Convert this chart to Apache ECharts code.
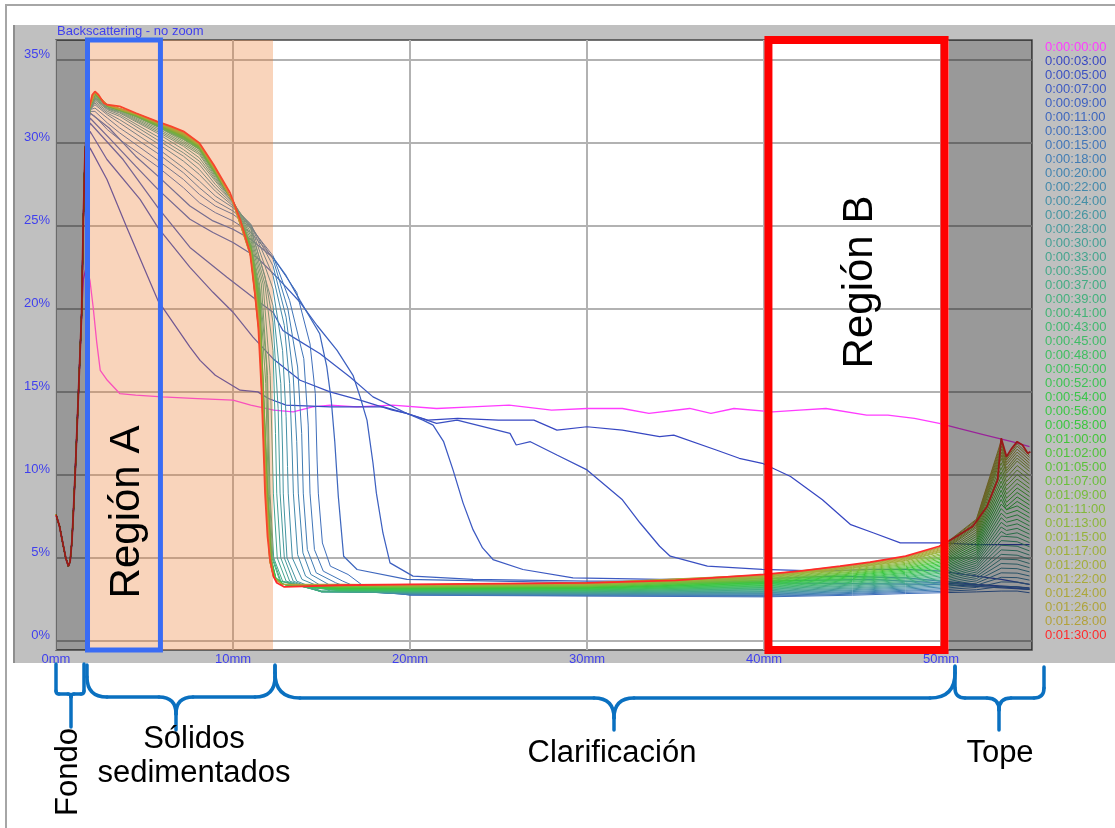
<!DOCTYPE html>
<html>
<head>
<meta charset="utf-8">
<script src="https://cdn.jsdelivr.net/npm/echarts@6.0.0/dist/echarts.min.js"></script>
<style>
html,body{margin:0;padding:0;background:#fff;}
#chart{width:1115px;height:828px;}
</style>
</head>
<body>
<div id="chart"></div>
<script>
// Backscattering profiles (BS, %) along the tube height (mm), one curve per scan time.

const times = ['0:00:00:00','0:00:03:00','0:00:05:00','0:00:07:00','0:00:09:00','0:00:11:00','0:00:13:00','0:00:15:00','0:00:18:00','0:00:20:00','0:00:22:00','0:00:24:00','0:00:26:00','0:00:28:00','0:00:30:00','0:00:33:00','0:00:35:00','0:00:37:00','0:00:39:00','0:00:41:00','0:00:43:00','0:00:45:00','0:00:48:00','0:00:50:00','0:00:52:00','0:00:54:00','0:00:56:00','0:00:58:00','0:01:00:00','0:01:02:00','0:01:05:00','0:01:07:00','0:01:09:00','0:01:11:00','0:01:13:00','0:01:15:00','0:01:17:00','0:01:20:00','0:01:22:00','0:01:24:00','0:01:26:00','0:01:28:00','0:01:30:00'];

const xTicks = [0, 10, 20, 30, 40, 50];
const yTicks = [0, 5, 10, 15, 20, 25, 30, 35];

// zones along the tube (mm)
const zoneFondo = [0, 1.7];
const zoneSolids = [1.7, 12.26];
const zoneTope = [50.45, 55.14];
const regionA = [1.78, 5.9];
const regionB = [40.25, 50.2];

// bottom of the tube: every scan reads the same here
const fondo = [[0,7.6],[0.2,6.9],[0.4,5.8],[0.55,5.0],[0.7,4.5],[0.8,4.8],[0.9,6.0],[0.98,7.7],[1.1,10.5],[1.26,14.7],[1.45,19.8]];

const bs0000 = [[1.55,21.8],[1.72,22.6],[1.92,21.7],[2.1,20.1],[2.3,18.0],[2.5,16.3],[2.9,15.7],[3.6,14.9],[4.5,14.8],[6,14.7],[8,14.6],[10,14.5],[11,14.2],[12.3,13.9],[13.4,13.8],[14.5,14.1],[15.5,14.2],[17,14.1],[19,14.2],[21.5,14.0],[23.5,14.1],[25.6,14.2],[28,13.9],[30,14.0],[32,14.0],[33.5,13.7],[35.8,14.0],[37,13.7],[38.3,14.0],[40.5,13.8],[42,13.9],[43.5,14.0],[45.8,13.6],[47,13.6],[48.5,13.4],[49.9,13.1],[51,12.8],[52.5,12.4],[54,12.0],[55.0,11.7]];
const bs0003 = [[1.54,25.2],[1.64,28.3],[1.92,29.7],[2.88,27.8],[4.0,24.9],[5.76,20.5],[7.57,17.7],[8.14,16.9],[9.0,16.0],[10.4,15.1],[11.4,15.0],[12.0,14.6],[13.0,14.2],[15.5,14.1],[18.5,14.1],[19.8,13.7],[21.0,13.3],[22.7,13.4],[25.0,13.3],[27.0,13.3],[28.3,12.7],[30.0,12.9],[32.0,12.7],[34.1,12.3],[34.9,12.4],[37.3,11.5],[38.6,11.0],[39.9,10.7],[41.5,9.9],[43.3,8.5],[44.9,7.0],[46.2,6.5],[47.7,5.9],[49.9,5.9],[52,5.8],[55.0,5.8]];
const bs0005 = [[1.54,25.2],[1.64,29.0],[1.92,30.7],[2.88,29.0],[4.75,26.6],[5.76,24.9],[7.57,22.5],[8.87,21.0],[10.0,19.8],[11.13,18.3],[12.26,17.0],[13.79,15.7],[15.48,15.0],[17.18,14.5],[19.0,13.9],[19.83,13.7],[21.5,13.1],[22.66,13.3],[25.65,12.5],[26.0,11.8],[26.8,12.0],[28.3,11.2],[30.0,10.3],[32.0,8.5],[33.0,7.1],[34.1,5.7],[34.7,5.1],[36.8,4.5],[39.9,4.3],[43.3,4.2],[46,4.3],[48,4.3],[50,4.2],[52,3.9],[53.4,3.7],[55.0,3.4]];
const bs0007 = [[1.54,25.2],[1.64,29.3],[1.92,31.2],[3.79,29.0],[5.76,26.1],[7.57,23.7],[9.66,21.9],[11.36,20.5],[12.26,19.8],[12.82,18.7],[13.39,18.3],[14.92,17.3],[16.61,15.9],[17.91,14.7],[19.83,13.7],[20.73,13.3],[21.3,13.0],[21.9,12.0],[22.43,10.3],[23.0,8.3],[23.56,6.7],[24.1,5.6],[24.69,4.9],[26.38,4.3],[29.21,3.8],[34.12,3.7],[40,3.75],[44,3.9],[48,3.8],[50,3.6],[52,3.4],[55.0,3.2]];
const bs0009 = [[1.54,25.2],[1.64,29.4],[1.92,31.5],[3.0,30.3],[4.5,28.6],[5.76,27.2],[7.57,25.4],[8.87,24.6],[10.0,24.0],[11.36,23.1],[12.49,21.9],[13.79,20.4],[14.75,19.0],[15.88,17.5],[16.78,16.0],[17.18,14.7],[17.57,13.3],[17.91,10.7],[18.1,8.9],[18.47,6.5],[18.87,4.7],[20.17,3.9],[23.56,3.7],[30,3.6],[40,3.6],[46,3.7],[50,3.5],[53,3.3],[55.0,3.1]];
const bs0011 = [[1.54,25.2],[1.64,29.5],[1.92,31.8],[3.0,30.9],[4.5,29.2],[5.76,28.0],[7.57,26.2],[8.87,25.3],[10.0,24.8],[11.0,24.2],[12.26,23.1],[13.0,22.0],[13.79,20.5],[14.9,18.5],[15.3,16.5],[15.55,14.5],[15.75,12.0],[15.95,8.7],[16.25,5.1],[17.01,4.3],[19.83,3.7],[30,3.5],[40,3.5],[50,3.4],[55.0,3.1]];
const bs0013 = [[1.54,25.2],[1.64,29.5],[1.92,31.8],[2.2,31.6],[2.9,30.8],[3.6,30.2],[5.7,28.6],[7.2,27.3],[8.1,26.4],[9.0,25.8],[10.0,25.3],[11.0,24.6],[12.26,23.1],[13.6,21.0],[14.35,17.9],[14.65,14.9],[14.75,10.9],[14.82,8.9],[15.05,5.9],[15.5,4.5],[16.5,4.0],[17.5,3.2],[20,2.75],[30,2.7],[40,2.65],[45,2.75],[48,2.85],[50,2.9],[52,2.95],[53.4,3.0],[54.3,3.0],[55.0,2.9]];
const bs0015 = [[1.54,25.2],[1.64,29.5],[1.92,31.9],[2.2,31.9],[2.9,31.2],[3.6,30.6],[5.7,29.0],[7.2,27.8],[8.1,26.9],[9.0,26.2],[10.0,25.7],[11.0,24.9],[12.26,23.2],[13.2,20.5],[14.0,17.0],[14.25,13.0],[14.35,8.9],[14.6,5.5],[15.1,4.2],[16.2,3.6],[17.5,3.0],[20,2.77],[30,2.72],[40,2.69],[45,2.81],[48,2.92],[50,2.98],[52,3.08],[53.4,3.28],[54.3,3.27],[55.0,3.15]];
const bs0018 = [[1.54,25.2],[1.64,29.5],[1.92,32.0],[2.2,32.1],[2.9,31.5],[3.6,30.9],[5.7,29.4],[7.2,28.2],[8.1,27.3],[9.0,26.5],[10.0,25.9],[11.0,25.0],[12.26,23.0],[13.1,20.0],[13.65,16.5],[13.88,12.5],[13.97,8.9],[14.2,5.5],[14.7,4.1],[15.8,3.5],[17.0,3.0],[20,2.79],[30,2.75],[40,2.73],[45,2.86],[48,2.99],[50,3.07],[52,3.22],[53.4,3.55],[54.3,3.54],[55.0,3.4]];
const bs0020 = [[1.54,25.2],[1.64,29.5],[1.92,32.0],[2.2,32.3],[2.9,31.7],[3.6,31.2],[5.7,29.7],[7.2,28.5],[8.1,27.7],[9.0,26.8],[10.0,26.1],[11.0,25.1],[12.26,22.6],[13.0,19.5],[13.4,16.0],[13.6,12.0],[13.69,8.9],[13.95,5.3],[14.4,4.0],[15.4,3.4],[16.5,3.0],[20,2.81],[30,2.77],[40,2.77],[45,2.92],[48,3.05],[50,3.15],[52,3.35],[53.4,3.83],[54.3,3.81],[55.0,3.66]];
const bs0022 = [[1.54,25.2],[1.64,29.5],[1.92,32.0],[2.2,32.4],[2.9,31.8],[3.6,31.4],[5.7,30.0],[7.2,28.9],[8.1,28.1],[9.0,27.1],[10.0,26.2],[11.0,25.1],[12.26,22.0],[12.9,19.0],[13.2,15.5],[13.34,11.5],[13.41,8.9],[13.65,5.2],[14.1,3.9],[15.0,3.3],[16.2,3.0],[20,2.83],[30,2.8],[40,2.81],[45,2.97],[48,3.12],[50,3.24],[52,3.48],[53.4,4.1],[54.3,4.08],[55.0,3.91]];
const bs0024 = [[1.54,25.2],[1.64,29.5],[1.92,32.0],[2.2,32.5],[2.9,31.9],[3.6,31.6],[5.7,30.2],[7.2,29.2],[8.1,28.4],[9.0,27.3],[10.0,26.3],[11.0,25.0],[12.26,21.2],[12.8,17.5],[13.0,13.5],[13.08,10.5],[13.12,8.9],[13.35,5.0],[13.9,3.7],[15.5,3.0],[20,2.85],[30,2.82],[40,2.85],[45,3.03],[48,3.19],[50,3.32],[52,3.62],[53.4,4.38],[54.3,4.35],[55.0,4.16]];
const bs0026 = [[1.54,25.2],[1.64,29.5],[1.92,32.0],[2.2,32.6],[2.9,32.0],[3.6,31.7],[5.7,30.4],[7.2,29.4],[8.1,28.7],[9.0,27.5],[10.0,26.4],[11.0,24.9],[12.26,20.2],[12.7,15.5],[12.8,11.5],[12.84,8.9],[13.05,5.0],[13.6,3.6],[15.0,3.0],[20,2.87],[30,2.84],[40,2.89],[45,3.08],[48,3.26],[50,3.4],[52,3.75],[53.4,4.66],[54.3,4.62],[55.0,4.41]];
const bs0028 = [[1.54,25.2],[1.64,29.5],[1.92,32.0],[2.2,32.65],[2.9,32.05],[3.6,31.8],[5.7,30.6],[7.2,29.6],[8.1,28.9],[9.0,27.7],[10.0,26.4],[11.0,24.8],[11.8,22.0],[12.26,19.2],[12.55,14.0],[12.66,8.9],[12.9,5.0],[13.4,3.6],[15.0,2.95],[20,2.89],[30,2.87],[40,2.93],[45,3.14],[48,3.32],[50,3.49],[52,3.88],[53.4,4.93],[54.3,4.89],[55.0,4.66]];
const bs0030 = [[1.54,25.2],[1.64,29.5],[1.92,32.0],[2.2,32.7],[2.9,32.1],[3.6,31.85],[5.7,30.7],[7.2,29.8],[8.1,29.1],[9.0,27.8],[10.0,26.5],[11.0,24.6],[11.8,21.5],[12.26,17.5],[12.4,12.5],[12.47,8.9],[12.7,5.0],[13.2,3.6],[15.0,2.95],[20,2.91],[30,2.89],[40,2.97],[45,3.19],[48,3.39],[50,3.57],[52,4.02],[53.4,5.21],[54.3,5.16],[55.0,4.92]];
const bs0033 = [[1.54,25.2],[1.64,29.5],[1.92,32.0],[2.2,32.75],[2.9,32.1],[3.6,31.9],[5.7,30.8],[7.2,29.9],[8.1,29.3],[9.0,27.9],[10.0,26.5],[11.0,24.4],[11.7,21.5],[12.1,16.0],[12.22,11.5],[12.28,8.9],[12.5,5.0],[13.0,3.6],[15.0,2.95],[20,2.93],[30,2.92],[40,3.01],[45,3.25],[48,3.46],[50,3.66],[52,4.15],[53.4,5.48],[54.3,5.43],[55.0,5.17]];
const bs0035 = [[1.54,25.2],[1.64,29.5],[1.92,32.0],[2.2,32.8],[2.9,32.15],[3.6,31.95],[5.7,30.9],[7.2,30.0],[8.1,29.4],[9.0,28.0],[10.0,26.5],[11.0,24.2],[11.6,21.5],[11.95,16.0],[12.09,8.9],[12.3,5.0],[12.8,3.6],[15.0,2.97],[20,2.95],[30,2.94],[40,3.06],[45,3.31],[48,3.53],[50,3.74],[52,4.29],[53.4,5.76],[54.3,5.7],[55.0,5.42]];
const bs0037 = [[1.54,25.2],[1.64,29.5],[1.92,32.0],[2.2,32.85],[2.9,32.2],[3.6,32.0],[5.7,31.0],[7.2,30.1],[8.1,29.5],[9.0,28.1],[10.0,26.5],[11.0,24.0],[11.5,21.5],[11.9,16.5],[12.05,8.8],[12.25,5.0],[12.7,3.6],[15.0,2.98],[20,2.96],[30,2.96],[40,3.1],[45,3.36],[48,3.59],[50,3.82],[52,4.42],[53.4,6.04],[54.3,5.97],[55.0,5.67]];
const bs0039 = [[1.54,25.2],[1.64,29.5],[1.92,32.0],[2.2,32.9],[2.9,32.2],[3.6,32.05],[5.7,31.0],[7.2,30.2],[8.1,29.6],[9.0,28.1],[10.0,26.5],[11.0,23.8],[11.5,21.2],[11.85,15.5],[12.0,8.7],[12.2,5.0],[12.65,3.6],[15.0,3.0],[20,2.98],[30,2.99],[40,3.14],[45,3.42],[48,3.66],[50,3.91],[52,4.55],[53.4,6.31],[54.3,6.24],[55.0,5.92]];
const bs0041 = [[1.54,25.2],[1.64,29.5],[1.85,32.0],[2.2,32.91],[2.9,32.2],[4.5,31.61],[5.7,31.01],[7.2,30.22],[8.1,29.62],[9.0,28.12],[10.0,26.5],[11.0,23.87],[11.5,20.88],[11.97,8.7],[12.19,4.8],[12.42,3.8],[12.87,3.4],[16,3.02],[20,3.0],[30,3.01],[40,3.18],[45,3.47],[48,3.73],[50,3.99],[52,4.69],[53.4,6.59],[53.7,6.4],[54.3,6.51],[55.0,6.18]];
const bs0043 = [[1.54,25.2],[1.64,29.5],[1.85,32.0],[2.2,32.92],[2.9,32.21],[4.5,31.62],[5.7,31.02],[7.2,30.24],[8.1,29.63],[9.0,28.13],[10.0,26.49],[11.0,23.84],[11.5,20.76],[11.97,8.7],[12.19,4.8],[12.42,3.8],[12.87,3.4],[16,3.04],[20,3.02],[30,3.04],[40,3.22],[45,3.53],[48,3.8],[50,4.08],[52,4.82],[53.4,6.86],[53.7,6.65],[54.3,6.78],[55.0,6.43]];
const bs0045 = [[1.54,25.2],[1.64,29.5],[1.85,32.0],[2.2,32.92],[2.9,32.21],[4.5,31.62],[5.7,31.04],[7.2,30.26],[8.1,29.65],[9.0,28.15],[10.0,26.49],[11.0,23.8],[11.5,20.64],[11.96,8.7],[12.18,4.8],[12.41,3.8],[12.86,3.4],[16,3.06],[20,3.04],[30,3.06],[40,3.26],[45,3.58],[48,3.86],[50,4.16],[52,4.95],[53.4,7.14],[53.7,6.9],[54.3,7.05],[55.0,6.68]];
const bs0048 = [[1.54,25.2],[1.64,29.5],[1.85,32.0],[2.2,32.94],[2.9,32.22],[4.5,31.64],[5.7,31.05],[7.2,30.29],[8.1,29.67],[9.0,28.17],[10.0,26.48],[11.0,23.76],[11.5,20.46],[11.95,8.7],[12.17,4.8],[12.4,3.8],[12.85,3.4],[16,3.08],[20,3.06],[30,3.08],[40,3.3],[45,3.64],[48,3.93],[50,4.24],[52,5.09],[53.4,7.42],[53.7,7.15],[54.3,7.32],[55.0,6.93]];
const bs0050 = [[1.54,25.2],[1.64,29.5],[1.85,32.0],[2.2,32.94],[2.9,32.22],[4.5,31.64],[5.7,31.07],[7.2,30.31],[8.1,29.69],[9.0,28.19],[10.0,26.48],[11.0,23.72],[11.5,20.34],[11.95,8.7],[12.17,4.8],[12.4,3.8],[12.85,3.4],[16,3.1],[20,3.08],[30,3.11],[40,3.34],[45,3.69],[48,4.0],[50,4.33],[52,5.22],[53.4,7.69],[53.7,7.4],[54.3,7.59],[55.0,7.18]];
const bs0052 = [[1.54,25.2],[1.64,29.5],[1.85,32.0],[2.2,32.95],[2.9,32.23],[4.5,31.65],[5.7,31.08],[7.2,30.33],[8.1,29.7],[9.0,28.2],[10.0,26.48],[11.0,23.7],[11.5,20.25],[11.94,8.7],[12.16,4.8],[12.39,3.8],[12.84,3.4],[16,3.12],[20,3.1],[30,3.13],[40,3.38],[45,3.75],[48,4.07],[50,4.41],[52,5.35],[53.4,7.97],[53.7,7.65],[54.3,7.86],[55.0,7.44]];
const bs0054 = [[1.54,25.2],[1.64,29.5],[1.85,32.0],[2.2,32.96],[2.9,32.23],[4.5,31.66],[5.7,31.09],[7.2,30.35],[8.1,29.72],[9.0,28.22],[10.0,26.47],[11.0,23.67],[11.5,20.13],[11.94,8.7],[12.16,4.8],[12.39,3.8],[12.84,3.4],[16,3.14],[20,3.12],[30,3.16],[40,3.42],[45,3.8],[48,4.13],[50,4.5],[52,5.49],[53.4,8.24],[53.7,7.9],[54.3,8.13],[55.0,7.69]];
const bs0056 = [[1.54,25.2],[1.64,29.5],[1.85,32.0],[2.2,32.97],[2.9,32.23],[4.5,31.67],[5.7,31.1],[7.2,30.37],[8.1,29.73],[9.0,28.23],[10.0,26.47],[11.0,23.64],[11.5,20.01],[11.93,8.7],[12.15,4.8],[12.38,3.8],[12.83,3.4],[16,3.16],[20,3.14],[30,3.18],[40,3.46],[45,3.86],[48,4.2],[50,4.58],[52,5.62],[53.4,8.52],[53.7,7.9],[54.3,8.4],[55.0,7.94]];
const bs0058 = [[1.54,25.2],[1.64,29.5],[1.85,32.0],[2.2,32.97],[2.9,32.24],[4.5,31.67],[5.7,31.11],[7.2,30.39],[8.1,29.75],[9.0,28.25],[10.0,26.46],[11.0,23.6],[11.5,19.89],[11.93,8.7],[12.15,4.8],[12.38,3.8],[12.83,3.4],[16,3.18],[20,3.16],[30,3.2],[40,3.5],[45,3.92],[48,4.27],[50,4.66],[52,5.75],[53.4,8.8],[53.7,8.1],[54.3,8.67],[55.0,8.19]];
const bs0100 = [[1.54,25.2],[1.64,29.5],[1.85,32.0],[2.2,32.98],[2.9,32.24],[4.5,31.68],[5.7,31.12],[7.2,30.41],[8.1,29.76],[9.0,28.26],[10.0,26.46],[11.0,23.57],[11.5,19.77],[11.92,8.7],[12.14,4.8],[12.37,3.8],[12.82,3.4],[16,3.2],[20,3.18],[30,3.23],[40,3.54],[45,3.97],[48,4.34],[50,4.75],[52,5.89],[53.4,9.07],[53.7,8.35],[54.3,8.94],[55.0,8.44]];
const bs0102 = [[1.54,25.2],[1.64,29.5],[1.85,32.0],[2.2,32.99],[2.9,32.25],[4.5,31.69],[5.7,31.14],[7.2,30.43],[8.1,29.78],[9.0,28.28],[10.0,26.46],[11.0,23.54],[11.5,19.65],[11.92,8.7],[12.14,4.8],[12.37,3.8],[12.82,3.4],[16,3.22],[20,3.2],[30,3.25],[40,3.58],[45,4.03],[48,4.4],[50,4.83],[52,6.02],[53.4,9.35],[53.7,8.6],[54.3,9.21],[55.0,8.7]];
const bs0105 = [[1.54,25.2],[1.64,29.5],[1.85,32.0],[2.2,33.0],[2.9,32.25],[4.5,31.7],[5.7,31.15],[7.2,30.46],[8.1,29.8],[9.0,28.3],[10.0,26.45],[11.0,23.49],[11.5,19.47],[11.91,8.7],[12.13,4.8],[12.36,3.8],[12.81,3.4],[16,3.24],[20,3.22],[30,3.28],[40,3.62],[45,4.08],[48,4.47],[50,4.92],[52,6.15],[53.4,9.62],[53.7,8.85],[54.3,9.48],[55.0,8.95]];
const bs0107 = [[1.54,25.2],[1.64,29.5],[1.85,32.0],[2.2,33.01],[2.9,32.26],[4.5,31.71],[5.7,31.17],[7.2,30.48],[8.1,29.82],[9.0,28.32],[10.0,26.45],[11.0,23.46],[11.5,19.35],[11.9,8.7],[12.12,4.8],[12.35,3.8],[12.8,3.4],[16,3.26],[20,3.24],[30,3.3],[40,3.66],[45,4.14],[48,4.54],[50,5.0],[52,6.29],[53.4,9.9],[53.7,9.1],[54.3,9.75],[55.0,9.2]];
const bs0109 = [[1.54,25.2],[1.64,29.5],[1.85,32.0],[2.2,33.02],[2.9,32.26],[4.5,31.72],[5.7,31.18],[7.2,30.5],[8.1,29.84],[9.0,28.34],[10.0,26.44],[11.0,23.43],[11.5,19.23],[11.9,8.7],[12.12,4.8],[12.35,3.8],[12.8,3.4],[16,3.28],[20,3.26],[30,3.32],[40,3.7],[45,4.19],[48,4.61],[50,5.08],[52,6.42],[53.4,10.18],[53.7,9.35],[54.3,10.02],[55.0,9.45]];
const bs0111 = [[1.54,25.2],[1.64,29.5],[1.85,32.0],[2.2,33.03],[2.9,32.26],[4.5,31.73],[5.7,31.19],[7.2,30.52],[8.1,29.85],[9.0,28.35],[10.0,26.44],[11.0,23.4],[11.5,19.11],[11.89,8.7],[12.11,4.8],[12.34,3.8],[12.79,3.4],[16,3.3],[20,3.28],[30,3.35],[40,3.74],[45,4.25],[48,4.67],[50,5.17],[52,6.55],[53.4,10.45],[53.7,9.6],[54.3,10.29],[55.0,9.7]];
const bs0113 = [[1.54,25.2],[1.64,29.5],[1.85,32.0],[2.2,33.03],[2.9,32.27],[4.5,31.73],[5.7,31.2],[7.2,30.54],[8.1,29.87],[9.0,28.37],[10.0,26.43],[11.0,23.36],[11.5,18.99],[11.89,8.7],[12.11,4.8],[12.34,3.8],[12.79,3.4],[16,3.32],[20,3.3],[30,3.37],[40,3.78],[45,4.3],[48,4.74],[50,5.25],[52,6.69],[53.4,10.73],[53.7,9.85],[54.3,10.56],[55.0,9.96]];
const bs0115 = [[1.54,25.2],[1.64,29.5],[1.85,32.0],[2.2,33.04],[2.9,32.27],[4.5,31.74],[5.7,31.21],[7.2,30.56],[8.1,29.88],[9.0,28.38],[10.0,26.43],[11.0,23.33],[11.5,18.87],[11.88,8.7],[12.1,4.8],[12.33,3.8],[12.78,3.4],[16,3.34],[20,3.32],[30,3.4],[40,3.82],[45,4.36],[48,4.81],[50,5.34],[52,6.82],[53.4,11.0],[53.7,10.1],[54.3,10.83],[55.0,10.21]];
const bs0117 = [[1.54,25.2],[1.64,29.5],[1.85,32.0],[2.2,33.05],[2.9,32.28],[4.5,31.75],[5.7,31.23],[7.2,30.58],[8.1,29.9],[9.0,28.4],[10.0,26.43],[11.0,23.3],[11.5,18.75],[11.88,8.7],[12.1,4.8],[12.33,3.8],[12.78,3.4],[16,3.35],[20,3.33],[30,3.41],[40,3.85],[45,4.4],[48,4.85],[50,5.39],[52,6.91],[53.4,11.19],[53.7,10.25],[54.3,11.01],[55.0,10.38]];
const bs0120 = [[1.54,25.2],[1.64,29.5],[1.85,32.0],[2.2,33.06],[2.9,32.28],[4.5,31.76],[5.7,31.24],[7.2,30.6],[8.1,29.92],[9.0,28.42],[10.0,26.42],[11.0,23.26],[11.5,18.6],[11.87,8.7],[12.09,4.8],[12.32,3.8],[12.77,3.4],[16,3.36],[20,3.34],[30,3.43],[40,3.88],[45,4.43],[48,4.9],[50,5.45],[52,7.0],[53.4,11.37],[53.7,10.4],[54.3,11.19],[55.0,10.54]];
const bs0122 = [[1.54,25.2],[1.64,29.5],[1.85,32.0],[2.2,33.07],[2.9,32.28],[4.5,31.77],[5.7,31.25],[7.2,30.62],[8.1,29.94],[9.0,28.44],[10.0,26.42],[11.0,23.23],[11.5,18.48],[11.86,8.7],[12.08,4.8],[12.31,3.8],[12.76,3.4],[16,3.37],[20,3.35],[30,3.44],[40,3.91],[45,4.47],[48,4.94],[50,5.5],[52,7.09],[53.4,11.56],[53.7,10.6],[54.3,11.37],[55.0,10.71]];
const bs0124 = [[1.54,25.2],[1.64,29.5],[1.85,32.0],[2.2,33.08],[2.9,32.29],[4.5,31.78],[5.7,31.26],[7.2,30.64],[8.1,29.95],[9.0,28.45],[10.0,26.41],[11.0,23.2],[11.5,18.36],[11.86,8.7],[12.08,4.8],[12.31,3.8],[12.76,3.4],[16,3.39],[20,3.37],[30,3.46],[40,3.93],[45,4.51],[48,4.99],[50,5.56],[52,7.18],[53.4,11.74],[53.7,10.75],[54.3,11.55],[55.0,10.88]];
const bs0126 = [[1.54,25.2],[1.64,29.5],[1.85,32.0],[2.2,33.08],[2.9,32.29],[4.5,31.78],[5.7,31.28],[7.2,30.66],[8.1,29.97],[9.0,28.47],[10.0,26.41],[11.0,23.16],[11.5,18.24],[11.85,8.7],[12.07,4.8],[12.3,3.8],[12.75,3.4],[16,3.4],[20,3.38],[30,3.48],[40,3.96],[45,4.54],[48,5.03],[50,5.62],[52,7.27],[53.4,11.92],[53.7,10.9],[54.3,11.73],[55.0,11.05]];
const bs0128 = [[1.54,25.2],[1.64,29.5],[1.85,32.0],[2.2,33.09],[2.9,32.3],[4.5,31.79],[5.7,31.29],[7.2,30.68],[8.1,29.98],[9.0,28.48],[10.0,26.4],[11.0,23.13],[11.5,18.12],[11.85,8.7],[12.07,4.8],[12.3,3.8],[12.75,3.4],[16,3.41],[20,3.39],[30,3.49],[40,3.98],[45,4.57],[48,5.07],[50,5.66],[52,7.33],[53.4,12.06],[53.7,11.0],[54.3,11.87],[55.0,11.17]];
const bs0130 = [[1.54,25.2],[1.64,29.5],[1.85,32.0],[2.05,32.9],[2.2,33.1],[2.4,32.9],[2.7,32.4],[2.9,32.3],[3.6,32.2],[4.5,31.8],[5.7,31.3],[6.5,31.0],[7.2,30.7],[8.1,30.0],[8.9,28.7],[9.5,27.6],[9.83,27.0],[10.4,25.4],[10.96,23.4],[11.24,20.9],[11.43,18.9],[11.62,14.9],[11.81,8.9],[11.95,6.3],[12.09,4.9],[12.28,3.9],[12.47,3.5],[12.9,3.25],[16,3.35],[20,3.4],[25,3.45],[30,3.5],[35,3.65],[40,4.0],[42,4.2],[44.3,4.5],[46,4.75],[48,5.1],[49.9,5.7],[50.9,6.3],[51.8,6.9],[52.6,8.1],[53.2,9.7],[53.4,12.2],[53.7,11.1],[54.0,11.6],[54.3,12.0],[54.6,11.8],[54.9,11.3],[55.05,11.4]];

const profiles = [bs0000,bs0003,bs0005,bs0007,bs0009,bs0011,bs0013,bs0015,bs0018,bs0020,bs0022,bs0024,bs0026,bs0028,bs0030,bs0033,bs0035,bs0037,bs0039,bs0041,bs0043,bs0045,bs0048,bs0050,bs0052,bs0054,bs0056,bs0058,bs0100,bs0102,bs0105,bs0107,bs0109,bs0111,bs0113,bs0115,bs0117,bs0120,bs0122,bs0124,bs0126,bs0128,bs0130];

// colour per scan: magenta, then blue -> teal -> green -> olive, last scan red
const lineColors = [
  '#ff3cff',
  '#3747c2','#3a50c2','#3c59c2','#3d60c0','#3e67be',
  '#3f6ebb','#4075b8','#417cb4','#4283b0','#4389ab',
  '#448fa6','#4595a1','#469a9b','#469f95','#45a48f',
  '#44a889','#43ac83','#42b07c','#41b475','#40b86e',
  '#3fbb67','#3ebe60','#3dc159','#3cc352','#3bc54b',
  '#3ac644','#3ac63e','#42c53a','#4fc33a','#5cc13a',
  '#69bf3a','#76bc3a','#82b93a','#8cb63a','#95b33a',
  '#9db03a','#a3ad3a','#a8aa3a','#aca73a','#afa43a',
  '#b2a13a','#ff2a2a'
];

const FONT = '"Liberation Sans", Arial, sans-serif';
const AXIS_BLUE = '#3f3fee';
const Y_MIN = -0.55, Y_MAX = 36.2, X_MAX = 55.14;

const series = profiles.map(function (p, i) {
  const last = i === profiles.length - 1;
  return {
    name: times[i],
    type: 'line',
    data: fondo.concat(p),
    symbol: 'none',
    silent: true,
    z: 2,
    lineStyle: { color: lineColors[i], width: i === 0 ? 1.3 : (last ? 1.8 : (i < 6 ? 1.25 : 1.0)) },
    itemStyle: { color: lineColors[i] }
  };
});

// shaded zones drawn over the curves
series.push({
  type: 'line', data: [], silent: true, z: 8,
  markArea: {
    silent: true, z: 8, label: { show: false },
    data: [
      [{ xAxis: zoneFondo[0], yAxis: Y_MIN, itemStyle: { color: 'rgba(0,0,0,0.4)' } }, { xAxis: zoneFondo[1], yAxis: Y_MAX }],
      [{ xAxis: zoneSolids[0], yAxis: Y_MIN, itemStyle: { color: 'rgba(237,125,49,0.33)' } }, { xAxis: zoneSolids[1], yAxis: Y_MAX }],
      [{ xAxis: zoneTope[0], yAxis: Y_MIN, itemStyle: { color: 'rgba(0,0,0,0.4)' } }, { xAxis: zoneTope[1], yAxis: Y_MAX }]
    ]
  }
});

// outlined regions A and B
series.push({
  type: 'line', data: [], silent: true, z: 9, clip: false,
  markArea: {
    silent: true, z: 9, label: { show: false },
    data: [
      [{ xAxis: regionA[0], yAxis: Y_MIN, itemStyle: { color: 'rgba(0,0,0,0)', borderColor: '#3a6cf4', borderWidth: 5 } }, { xAxis: regionA[1], yAxis: Y_MAX }],
      [{ xAxis: regionB[0], yAxis: Y_MIN - 0.1, itemStyle: { color: 'rgba(0,0,0,0)', borderColor: '#ff0000', borderWidth: 8 } }, { xAxis: regionB[1], yAxis: Y_MAX + 0.05 }]
    ]
  }
});

// curly brace under the plot, built from straight and quadratic pieces
function brace(x1, x2, xm, yTop, yMid, yTip, r, rt) {
  const st = { stroke: '#0a70c0', lineWidth: 3.5, fill: null, lineCap: 'round' };
  function seg(a, b, c, d) { return { type: 'line', shape: { x1: a, y1: b, x2: c, y2: d }, style: st }; }
  function arc(a, b, c, d, cx, cy) { return { type: 'bezierCurve', shape: { x1: a, y1: b, x2: c, y2: d, cpx1: cx, cpy1: cy }, style: st }; }
  return {
    type: 'group', silent: true, z: 100,
    children: [
      seg(x1, yTop, x1, yMid - r),
      arc(x1, yMid - r, x1 + r, yMid, x1, yMid),
      seg(x1 + r, yMid, xm - rt, yMid),
      arc(xm - rt, yMid, xm, yMid + rt, xm, yMid),
      seg(xm, yMid + rt, xm, yTip),
      arc(xm, yMid + rt, xm + rt, yMid, xm, yMid),
      seg(xm + rt, yMid, x2 - r, yMid),
      arc(x2 - r, yMid, x2, yMid - r, x2, yMid),
      seg(x2, yMid - r, x2, yTop)
    ]
  };
}

function label(text, x, y, size, vertical) {
  return {
    type: 'text', silent: true, z: 100, x: x, y: y,
    rotation: vertical ? Math.PI / 2 : 0,
    style: {
      text: text, fill: '#000', font: size + 'px ' + FONT,
      textAlign: 'center', textVerticalAlign: 'middle'
    }
  };
}

const option = {
  backgroundColor: '#ffffff',
  animation: false,
  title: {
    text: 'Backscattering - no zoom', left: 57, top: 25, padding: 0,
    textStyle: { fontSize: 13, fontWeight: 'normal', color: AXIS_BLUE, fontFamily: FONT }
  },
  legend: {
    orient: 'vertical', left: 1040, top: 40, padding: 0,
    itemWidth: 0, itemHeight: 14, itemGap: 0, icon: 'rect',
    itemStyle: { opacity: 0 }, lineStyle: { opacity: 0 },
    selectedMode: false,
    textStyle: { fontSize: 13, fontFamily: FONT, lineHeight: 14 },
    data: times.map(function (t, i) { return { name: t, textStyle: { color: lineColors[i] } }; })
  },
  grid: {
    left: 56, top: 40, right: 83, bottom: 178, show: true,
    backgroundColor: '#ffffff', borderColor: '#444', borderWidth: 1.5
  },
  xAxis: {
    type: 'value', min: 0, max: X_MAX,
    axisLine: { show: false },
    axisTick: { show: false, customValues: xTicks },
    axisLabel: { customValues: xTicks, formatter: '{value}mm', color: AXIS_BLUE, fontSize: 13, fontFamily: FONT, margin: 3, lineHeight: 13 },
    splitLine: { show: true, lineStyle: { color: '#b2b2b2', width: 2 } }
  },
  yAxis: {
    type: 'value', min: Y_MIN, max: Y_MAX,
    axisLine: { show: false },
    axisTick: { show: false, customValues: yTicks },
    axisLabel: { customValues: yTicks, formatter: '{value}%', color: AXIS_BLUE, fontSize: 13, fontFamily: FONT, margin: 6, verticalAlign: 'bottom', lineHeight: 10 },
    splitLine: { show: true, lineStyle: { color: '#b2b2b2', width: 2 } }
  },
  graphic: [
    { type: 'rect', silent: true, z: -20, shape: { x: 6, y: 5, width: 1200, height: 900 }, style: { fill: null, stroke: '#a6a6a6', lineWidth: 2 } },
    { type: 'rect', silent: true, z: -10, shape: { x: 13, y: 25, width: 1110, height: 638 }, style: { fill: '#c0c0c0' } },
    { type: 'line', silent: true, z: -9, shape: { x1: 14, y1: 25, x2: 14, y2: 663 }, style: { stroke: '#8e8e8e', lineWidth: 2 } },
    brace(56, 84, 71, 664, 694, 727, 3, 3),
    brace(87, 275, 176, 665, 697, 730, 20, 17),
    brace(275, 955, 614, 666, 698, 730, 25, 20),
    brace(955, 1044, 999, 667, 698, 730, 10, 12),
    label('Fondo', 68.5, 772, 31, true),
    label('Sólidos', 194, 739, 31, false),
    label('sedimentados', 194, 773, 31, false),
    label('Clarificación', 612, 753, 31, false),
    label('Tope', 1000, 753, 31, false),
    label('Región A', 127, 512, 42, true),
    label('Región B', 860, 282, 42, true)
  ],
  series: series
};

const chart = echarts.init(document.getElementById('chart'), null, { renderer: 'canvas' });
chart.setOption(option);
</script>
</body>
</html>
